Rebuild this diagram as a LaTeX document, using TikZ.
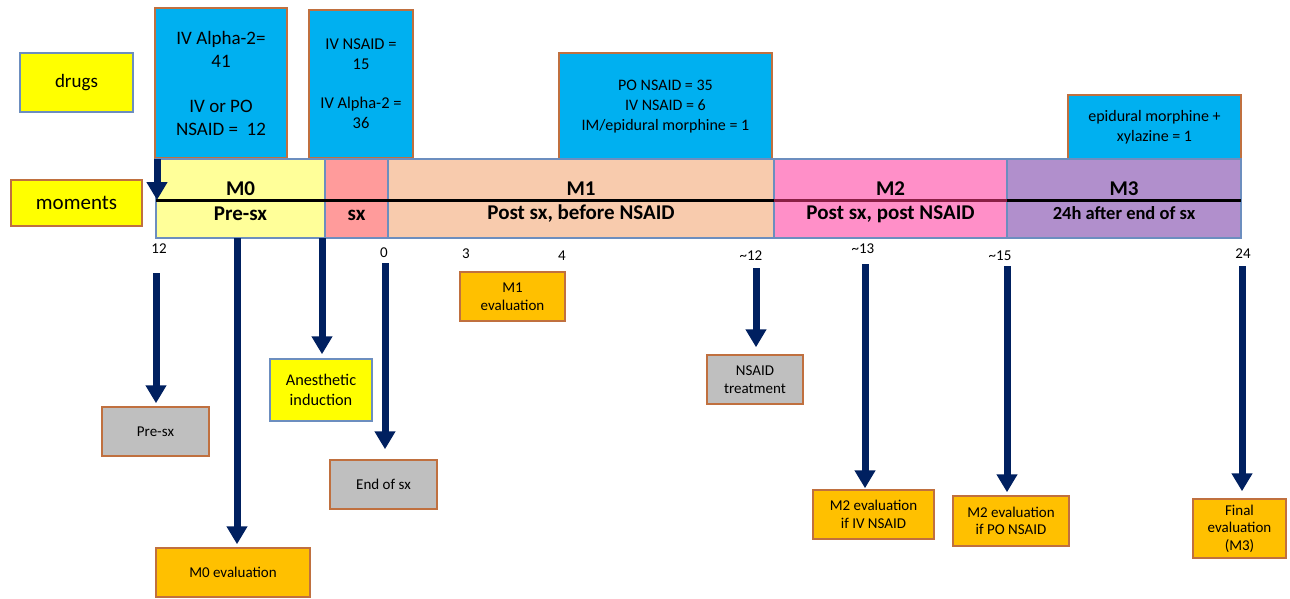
\documentclass[tikz,border=0pt]{standalone}
\usepackage{fontspec}
\setmainfont{Carlito}
\usetikzlibrary{arrows.meta}
\definecolor{brd}{HTML}{C0703F}
\definecolor{bgb}{HTML}{6C8EBF}
\definecolor{drugblue}{HTML}{00B0F0}
\definecolor{navy}{HTML}{002060}
\definecolor{gry}{HTML}{BFBFBF}
\definecolor{orng}{HTML}{FFC000}
\definecolor{yel}{HTML}{FFFF00}
\definecolor{cMzero}{HTML}{FFFF99}
\definecolor{cSX}{HTML}{FF9B9B}
\definecolor{cMone}{HTML}{F8CBAD}
\definecolor{cMtwo}{HTML}{FF8FC8}
\definecolor{cMthree}{HTML}{B18FCC}
\definecolor{maroon}{HTML}{8A1F45}
\tikzset{
 bx/.style={line width=1.5pt, inner sep=0pt, align=center},
 obox/.style={bx, draw=brd},
 bbox/.style={bx, draw=bgb},
 seg/.style={draw=bgb, line width=1.5pt, inner sep=0pt, minimum height=79pt},
 arr/.style={draw=navy, line width=7pt, -{Triangle[width=20pt,length=18pt]}},
 tick/.style={anchor=base, font=\fontsize{15}{18}\selectfont},
 seglab/.style={anchor=base, font=\bfseries\fontsize{21}{25}\selectfont},
 small/.style={font=\fontsize{15}{17.5}\selectfont},
}
\begin{document}
\begin{tikzpicture}[x=1pt,y=-1pt]
\useasboundingbox[fill=white] (0,0) rectangle (1290,598);

% left labels
\node[bbox, fill=yel, minimum width=113pt, minimum height=59pt, font=\fontsize{19}{23}\selectfont] (drugs) at (76.5,82.5) {drugs};
\node[obox, fill=yel, minimum width=131pt, minimum height=46pt, font=\fontsize{21}{25}\selectfont] (moments) at (76.5,203) {moments};

% drug boxes
\node[obox, fill=drugblue, minimum width=132pt, minimum height=150pt, font=\fontsize{19}{23}\selectfont] (d1) at (221,83) {IV Alpha-2=\\41\\[22pt]IV or PO\\NSAID =\ \ 12};
\node[obox, fill=drugblue, minimum width=104pt, minimum height=148pt, font=\fontsize{16.5}{20}\selectfont] (d2) at (361,84) {IV NSAID =\\15\\[19pt]IV Alpha-2 =\\36};
\node[obox, fill=drugblue, minimum width=213pt, minimum height=107pt, font=\fontsize{16}{20}\selectfont] (d3) at (665.5,106.5) {PO NSAID = 35\\IV NSAID = 6\\IM/epidural morphine = 1};
\node[obox, fill=drugblue, minimum width=173pt, minimum height=65pt, font=\fontsize{16}{20}\selectfont] (d4) at (1154.5,127.5) {epidural morphine +\\xylazine = 1};

% timeline segments
\node[seg, fill=cMzero, minimum width=169pt] (m0) at (240.5,198.5) {};
\node[seg, fill=cSX, minimum width=63pt] (sx) at (356.5,198.5) {};
\node[seg, fill=cMone, minimum width=386pt] (m1) at (581,198.5) {};
\node[seg, fill=cMtwo, minimum width=233pt] (m2) at (890.5,198.5) {};
\node[seg, fill=cMthree, minimum width=234pt] (m3) at (1124,198.5) {};

\coordinate (ml) at (156,200);
\coordinate (mr) at (1241,200);
\draw[line width=3pt] (ml) -- (mr);
\coordinate (m2l) at (774,200);
\coordinate (m2r) at (1007,200);
\draw[line width=3pt, maroon] (m2l) -- (m2r);

\node[seglab] (m0t) at (240.5,195) {M0};
\node[seglab] (m0b) at (240.5,220) {Pre-sx};
\node[seglab] (sxb) at (356.5,220) {sx};
\node[seglab] (m1t) at (581,195) {M1};
\node[seglab] (m1b) at (581,219.5) {Post sx, before NSAID};
\node[seglab] (m2t) at (890.5,195) {M2};
\node[seglab] (m2b) at (890.5,219.5) {Post sx, post NSAID};
\node[seglab] (m3t) at (1124,195) {M3};
\node[seglab, font=\bfseries\fontsize{18.5}{22}\selectfont] (m3b) at (1124,219) {24h after end of sx};

% ticks
\node[tick] (t12) at (159,253) {12};
\node[tick] (t0) at (384,257) {0};
\node[tick] (t3) at (466,258) {3};
\node[tick] (t4) at (562,260) {4};
\node[tick] (t12b) at (751,260) {\textasciitilde12};
\node[tick] (t13) at (863,253) {\textasciitilde13};
\node[tick] (t15) at (1000,260) {\textasciitilde15};
\node[tick] (t24) at (1243,258) {24};

% lower boxes
\node[obox, small, fill=gry, minimum width=107pt, minimum height=49pt] (presx) at (155.5,431.5) {Pre-sx};
\node[obox, small, fill=orng, minimum width=154pt, minimum height=49pt] (m0eval) at (233,572.5) {M0 evaluation};
\node[bbox, fill=yel, minimum width=102pt, minimum height=62pt, font=\fontsize{16.3}{20}\selectfont] (anest) at (321,390) {Anesthetic\\induction};
\node[obox, small, fill=gry, minimum width=107pt, minimum height=49pt] (endsx) at (383.5,484.5) {End of sx};
\node[obox, fill=orng, minimum width=105pt, minimum height=49pt, font=\fontsize{15}{18}\selectfont] (m1eval) at (512.5,296.5) {M1\\evaluation};
\node[obox, small, fill=gry, minimum width=96pt, minimum height=49pt] (nsaid) at (755,379.5) {NSAID\\treatment};
\node[obox, small, fill=orng, minimum width=121pt, minimum height=49pt] (m2iv) at (873.5,514.5) {M2 evaluation\\if IV NSAID};
\node[obox, small, fill=orng, minimum width=116pt, minimum height=50pt] (m2po) at (1011,521) {M2 evaluation\\if PO NSAID};
\node[obox, small, fill=orng, minimum width=93pt, minimum height=59pt] (final) at (1239.5,528.5) {Final\\evaluation\\(M3)};

% arrows
\coordinate (a1s) at (157,159);
\coordinate (a1e) at (157,200);
\draw[arr] (a1s) -- (a1e);
\coordinate (a2s) at (156,273);
\draw[arr, shorten >=3pt] (a2s) -- (a2s |- presx.north);
\coordinate (a3s) at (237,238);
\draw[arr, shorten >=3pt] (a3s) -- (a3s |- m0eval.north);
\coordinate (a4s) at (322,238);
\draw[arr, shorten >=4pt] (a4s) -- (a4s |- anest.north);
\coordinate (a5s) at (385,263);
\draw[arr, shorten >=10pt] (a5s) -- (a5s |- endsx.north);
\coordinate (a6s) at (756,268);
\draw[arr, shorten >=7pt] (a6s) -- (a6s |- nsaid.north);
\coordinate (a7s) at (865,264);
\draw[arr, shorten >=1pt] (a7s) -- (a7s |- m2iv.north);
\coordinate (a8s) at (1007,266);
\draw[arr, shorten >=3pt] (a8s) -- (a8s |- m2po.north);
\coordinate (a9s) at (1242,266);
\draw[arr, shorten >=7pt] (a9s) -- (a9s |- final.north);
\end{tikzpicture}
\end{document}
